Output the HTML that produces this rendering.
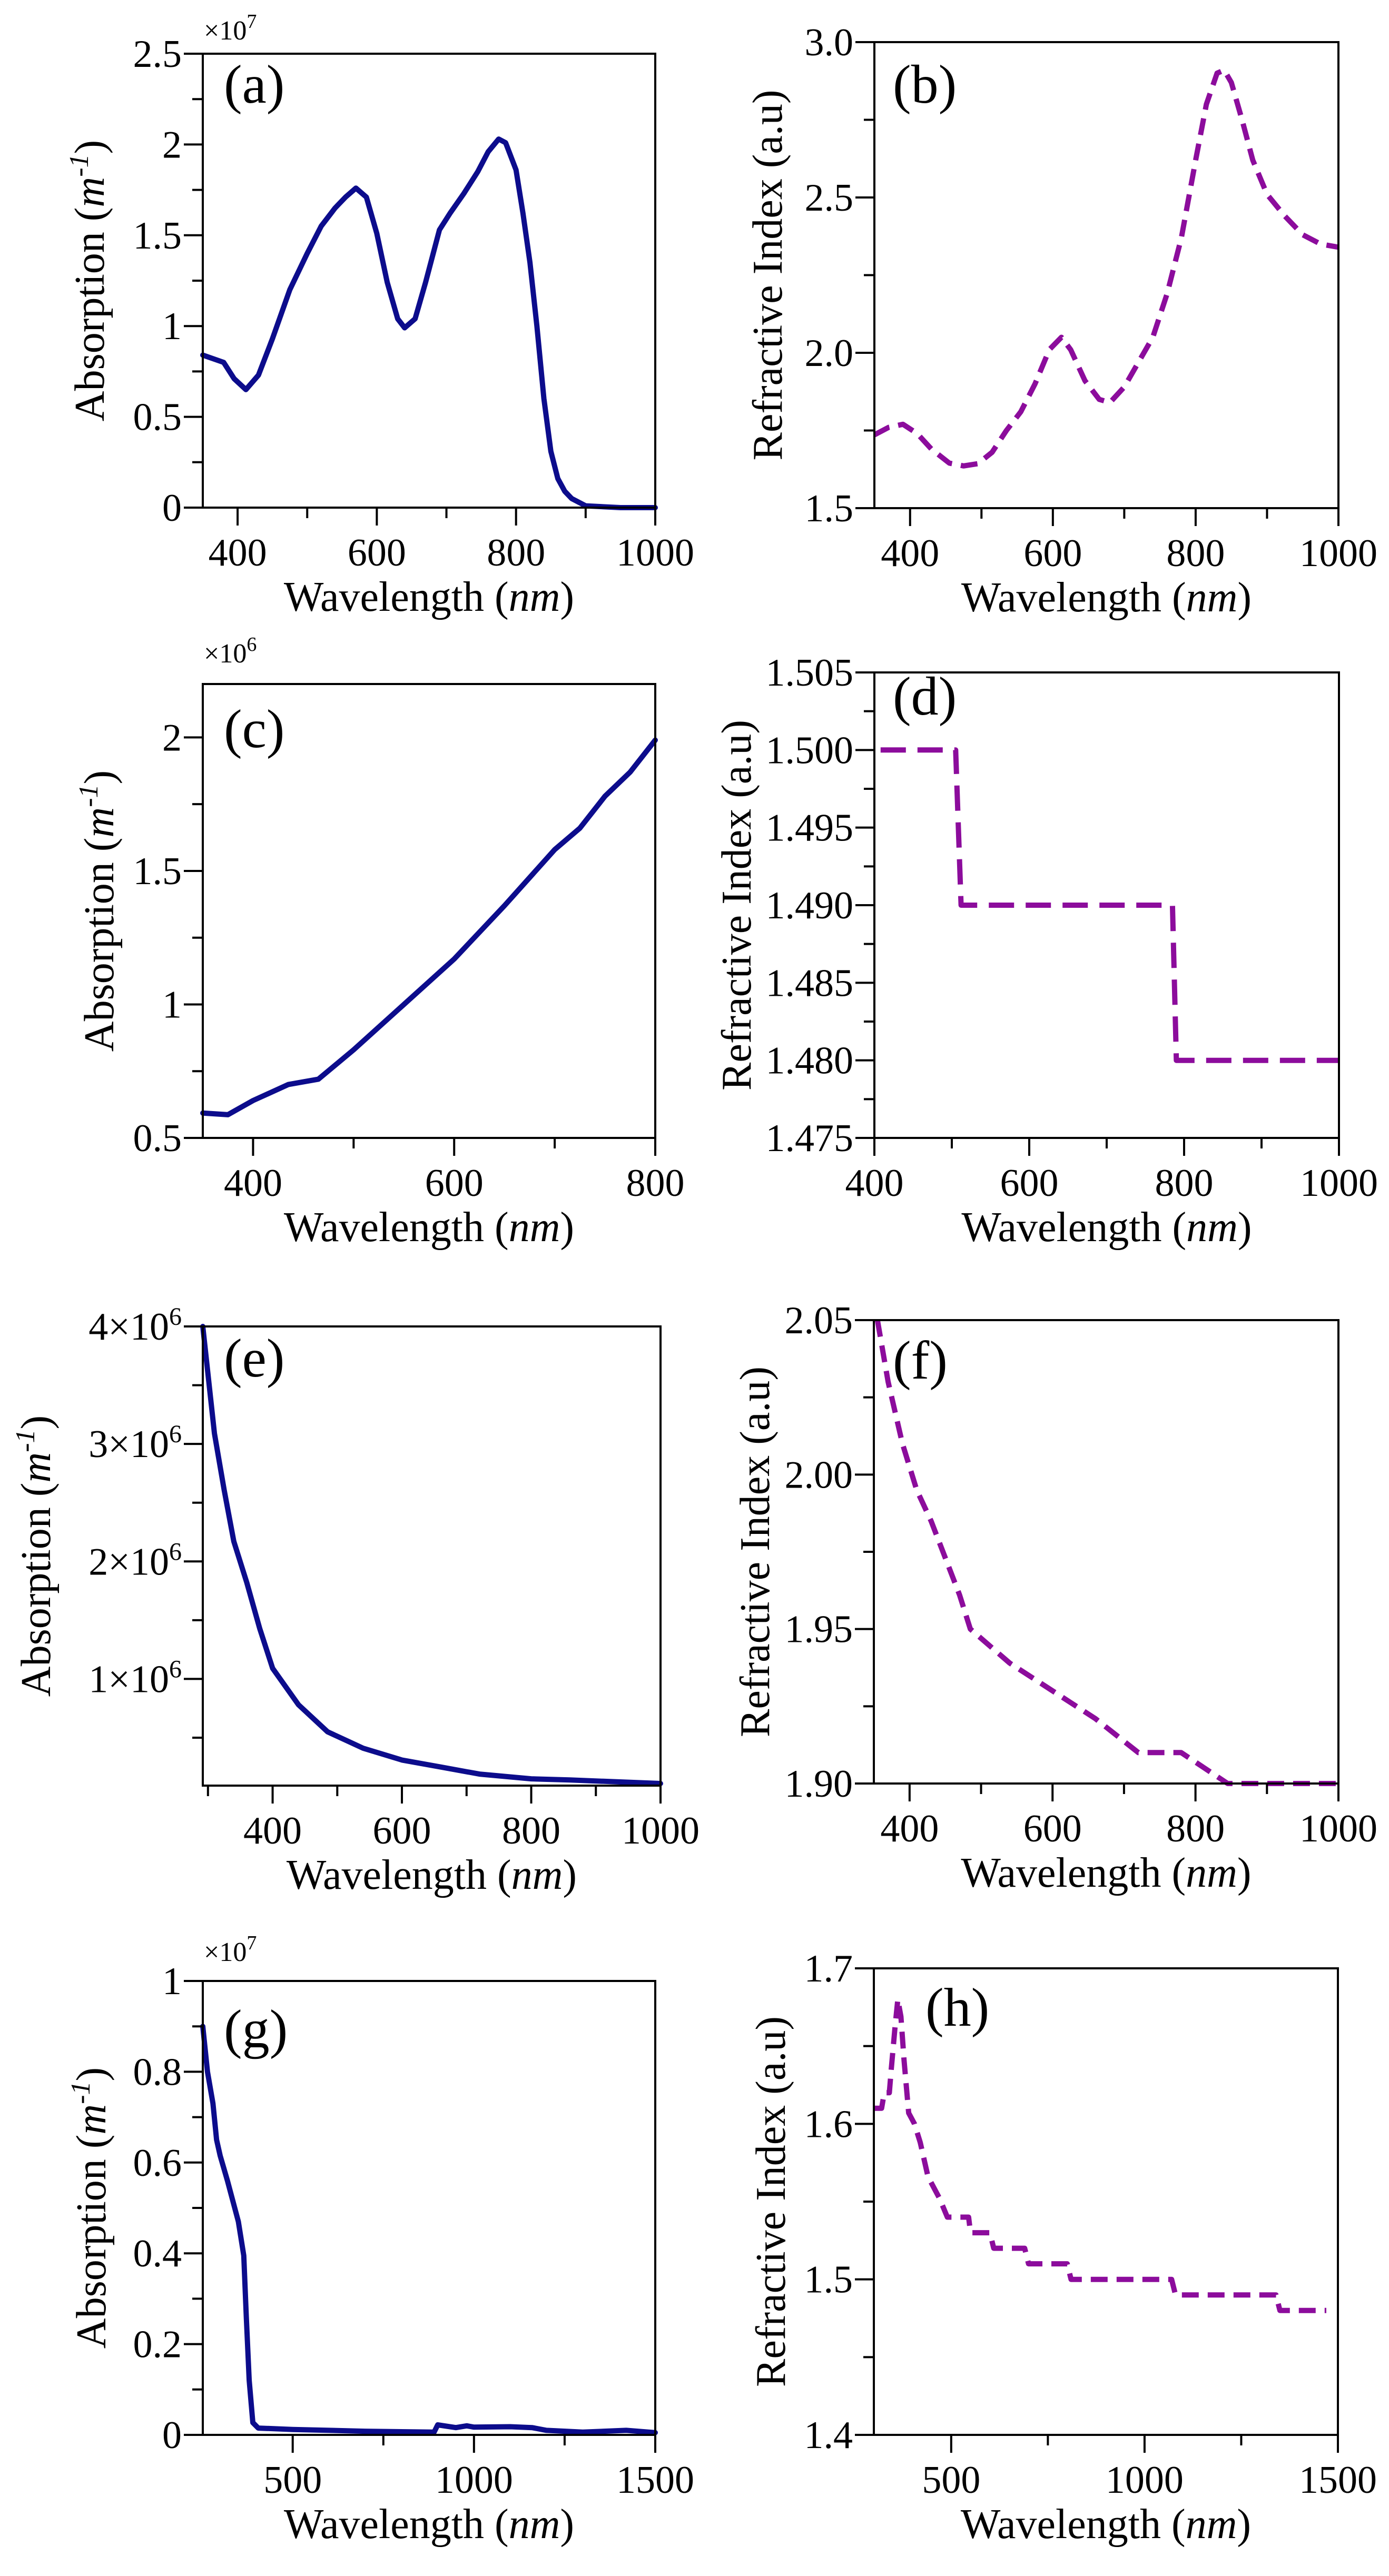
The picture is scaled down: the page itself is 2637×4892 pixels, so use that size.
<!DOCTYPE html>
<html><head><meta charset="utf-8"><style>
html,body{margin:0;padding:0;background:#fff;}
svg{display:block;}
text{font-family:"Liberation Serif","DejaVu Serif",serif;}
</style></head><body>
<svg id="fig" width="2637" height="4892" viewBox="0 0 2637 4892" xmlns="http://www.w3.org/2000/svg" font-family="Liberation Serif, DejaVu Serif, serif">
<rect x="0" y="0" width="2637" height="4892" fill="#fff"/>
</svg>
<script>
// ---- data (a) absorption x1e7
const aX=[350,380,395,412,430,450,475,500,520,540,555,570,585,600,615,630,640,655,670,690,705,725,745,760,775,785,800,810,820,830,840,850,860,870,880,900,950,1000];
const aY=[0.84,0.80,0.71,0.65,0.73,0.93,1.2,1.40,1.55,1.65,1.71,1.76,1.71,1.51,1.24,1.04,0.99,1.04,1.24,1.53,1.62,1.73,1.85,1.96,2.03,2.01,1.86,1.62,1.35,1.0,0.6,0.31,0.16,0.09,0.05,0.01,0.0,0.0];
// (b) refractive index
const bX=[350,370,390,410,430,455,475,495,515,535,555,575,595,612,625,645,665,680,700,720,740,760,780,800,815,830,840,850,865,880,900,925,950,975,1000];
const bY=[1.736,1.76,1.77,1.74,1.69,1.645,1.636,1.643,1.68,1.75,1.81,1.90,2.01,2.05,2.01,1.91,1.85,1.84,1.89,1.97,2.05,2.19,2.37,2.62,2.80,2.90,2.91,2.87,2.75,2.62,2.51,2.44,2.38,2.35,2.34];
// (c) absorption x1e6
const cX=[350,375,400,435,465,500,550,600,650,700,725,750,775,800];
const cY=[0.593,0.587,0.64,0.70,0.72,0.83,1.0,1.17,1.37,1.58,1.66,1.78,1.87,1.99];
// (d) refractive index
const dX=[408,505,512,785,790,1000];
const dY=[1.500,1.500,1.490,1.490,1.480,1.480];
// (e) absorption x1e6
const eX=[292,310,325,340,360,380,400,440,485,540,600,660,720,800,860,1000];
const eY=[4.0,3.09,2.61,2.17,1.82,1.43,1.09,0.78,0.55,0.41,0.31,0.25,0.19,0.15,0.14,0.11];
// (f) refractive index
const fX=[355,370,390,410,430,450,470,485,540,600,660,720,780,845,1000];
const fY=[2.05,2.03,2.01,1.995,1.985,1.973,1.961,1.95,1.939,1.93,1.921,1.91,1.91,1.90,1.90];
// (g) absorption x1e7
const gX=[252,265,280,290,300,320,340,350,365,372,380,390,405,500,700,890,900,950,980,1000,1100,1160,1200,1300,1420,1500];
const gY=[0.90,0.80,0.73,0.65,0.615,0.56,0.50,0.47,0.395,0.26,0.12,0.027,0.015,0.012,0.008,0.006,0.022,0.016,0.02,0.017,0.018,0.016,0.01,0.006,0.01,0.005];
// (h) refractive index
const hX=[300,320,327,340,345,355,362,370,378,390,405,420,440,470,490,545,550,600,610,690,700,800,810,1070,1080,1340,1350,1470];
const hY=[1.61,1.61,1.62,1.62,1.635,1.663,1.68,1.669,1.641,1.607,1.60,1.588,1.566,1.552,1.54,1.54,1.53,1.53,1.52,1.52,1.51,1.51,1.50,1.50,1.49,1.49,1.48,1.48];
// tick labels
const ticksXa=[400,600,800,1000], minorXa=[500,700,900];
const ticksXc=[400,600,800], minorXc=[500,700];
const ticksXd=[400,600,800,1000], minorXd=[500,700,900];
const ticksXe=[400,600,800,1000], minorXe=[300,500,700,900];
const ticksXg=[500,1000,1500], minorXg=[750,1250];
const ticksYa=[0,0.5,1,1.5,2,2.5], labelsYa=["0","0.5","1","1.5","2","2.5"];
const ticksYb=[1.5,2.0,2.5,3.0], labelsYb=["1.5","2.0","2.5","3.0"];
const ticksYc=[0.5,1,1.5,2], labelsYc=["0.5","1","1.5","2"];
const ticksYd=[1.475,1.480,1.485,1.490,1.495,1.500,1.505], labelsYd=["1.475","1.480","1.485","1.490","1.495","1.500","1.505"];
const ticksYe=[1,2,3,4], labelsYe=["1","2","3","4"];
const ticksYf=[1.90,1.95,2.00,2.05], labelsYf=["1.90","1.95","2.00","2.05"];
const ticksYg=[0,0.2,0.4,0.6,0.8,1], labelsYg=["0","0.2","0.4","0.6","0.8","1"];
const ticksYh=[1.4,1.5,1.6,1.7], labelsYh=["1.4","1.5","1.6","1.7"];

const NS="http://www.w3.org/2000/svg";
const FONT='"Liberation Serif","DejaVu Serif",serif';
const svg=document.getElementById('fig');
function mk(tag,attrs,parent){const e=document.createElementNS(NS,tag);for(const k in attrs)e.setAttribute(k,attrs[k]);if(tag==='text')e.style.fontFamily=FONT;(parent||svg).appendChild(e);return e;}

function panel(c){
  const g=mk('g',{});
  
  
  const sx=v=>c.L+(v-c.xmin)/(c.xmax-c.xmin)*(c.R-c.L);
  const sy=v=>c.B-(v-c.ymin)/(c.ymax-c.ymin)*(c.B-c.T);
  let d='';
  c.xs.forEach((x,i)=>{d+=(i?'L':'M')+sx(x).toFixed(1)+','+sy(c.ys[i]).toFixed(1);});
  const p=mk('path',{d:d,fill:'none',stroke:c.color,'stroke-width':10,'stroke-linejoin':'round','stroke-linecap':c.dash?'butt':'round'},g);
  if(c.dash)p.setAttribute('stroke-dasharray',c.dash);
  
  
  const fr=mk('rect',{x:c.L,y:c.T,width:c.R-c.L,height:c.B-c.T,fill:'none',stroke:'#000','stroke-width':4},g);
  
  
  c.xMajor.forEach(v=>{
    const x=sx(v);
    mk('line',{x1:x,y1:c.B,x2:x,y2:c.B+34,stroke:'#000','stroke-width':4},g);
    const t=mk('text',{x:x,y:c.B+110,'font-size':74,'text-anchor':'middle'},g);
    t.textContent=String(v);
    
    
  });
  c.xMinor.forEach(v=>{const x=sx(v);mk('line',{x1:x,y1:c.B,x2:x,y2:c.B+20,stroke:'#000','stroke-width':4},g);});
  c.yMajor.forEach((v,i)=>{
    const y=sy(v);
    mk('line',{x1:c.L-36,y1:y,x2:c.L,y2:y,stroke:'#000','stroke-width':4},g);
    const t=mk('text',{x:c.L-40,y:y+25,'font-size':74,'text-anchor':'end'},g);
    if(c.sci){
      t.appendChild(document.createTextNode(c.yLabels[i]+'×10'));
      const s=mk('tspan',{dy:-28,'font-size':48},t);s.textContent='6';
    } else t.textContent=c.yLabels[i];
    
    
  });
  for(let k=0;k<c.yMajor.length-1;k++){
    const v=(c.yMajor[k]+c.yMajor[k+1])/2;const y=sy(v);
    mk('line',{x1:c.L-20,y1:y,x2:c.L,y2:y,stroke:'#000','stroke-width':4},g);
  }
  if(c.yExtraMinor)c.yExtraMinor.forEach(v=>{const y=sy(v);mk('line',{x1:c.L-20,y1:y,x2:c.L,y2:y,stroke:'#000','stroke-width':4},g);});
  const xt=mk('text',{x:(c.L+c.R)/2,y:c.B+196,'font-size':80,'text-anchor':'middle'},g);
  xt.appendChild(document.createTextNode('Wavelength ('));
  const it=mk('tspan',{'font-style':'italic'},xt);it.textContent='nm';
  xt.appendChild(document.createTextNode(')'));
  
  
  const yt=mk('text',{transform:'translate('+c.ytx+','+((c.T+c.B)/2)+') rotate(-90)','font-size':80,'text-anchor':'middle'},g);
  if(c.abs){
    yt.appendChild(document.createTextNode('Absorption ('));
    const m=mk('tspan',{'font-style':'italic'},yt);m.textContent='m';
    const sup=mk('tspan',{dy:-30,'font-size':52,'font-style':'italic'},yt);sup.textContent='-1';
    const cl=mk('tspan',{dy:30},yt);cl.textContent=')';
  } else yt.textContent='Refractive Index (a.u)';
  
  
  const lt=mk('text',{x:c.lx,y:c.ly,'font-size':104},g);
  lt.textContent='('+c.id+')';
  
  
  if(c.mult){
    const mt=mk('text',{x:c.L+2,y:c.my,'font-size':52},g);
    mt.appendChild(document.createTextNode('×10'));
    const s=mk('tspan',{dy:-22,'font-size':38},mt);s.textContent=c.mult;
    
    
  }
}
const BLUE='#0c0c8c', PUR='#8c0c9c', DASH='32,17';
panel({id:'a',L:385,R:1244,T:102,B:964,xmin:350,xmax:1000,ymin:0,ymax:2.5,xs:aX,ys:aY,color:BLUE,xMajor:ticksXa,xMinor:minorXa,yMajor:ticksYa,yLabels:labelsYa,ytx:197,abs:true,lx:425,ly:195,mult:'7',my:75});
panel({id:'b',L:1660,R:2541,T:80,B:965,xmin:350,xmax:1000,ymin:1.5,ymax:3.0,xs:bX,ys:bY,color:PUR,dash:DASH,xMajor:ticksXa,xMinor:minorXa,yMajor:ticksYb,yLabels:labelsYb,ytx:1484,lx:1695,ly:195});
panel({id:'c',L:385,R:1244,T:1299,B:2161,xmin:350,xmax:800,ymin:0.5,ymax:2.2,xs:cX,ys:cY,color:BLUE,xMajor:ticksXc,xMinor:minorXc,yMajor:ticksYc,yLabels:labelsYc,ytx:215,abs:true,lx:425,ly:1419,mult:'6',my:1258});
panel({id:'d',L:1660,R:2542,T:1277,B:2161,xmin:400,xmax:1000,ymin:1.475,ymax:1.505,xs:dX,ys:dY,color:PUR,dash:'48,22',xMajor:ticksXd,xMinor:minorXd,yMajor:ticksYd,yLabels:labelsYd,ytx:1425,lx:1695,ly:1357});
panel({id:'e',L:385,R:1254,T:2519,B:3391,xmin:292,xmax:1000,ymin:0.092,ymax:4,xs:eX,ys:eY,color:BLUE,xMajor:ticksXe,xMinor:minorXe,yMajor:ticksYe,yLabels:labelsYe,sci:true,yExtraMinor:[0.5],ytx:95,abs:true,lx:425,ly:2614});
panel({id:'f',L:1659,R:2541,T:2507,B:3387,xmin:350,xmax:1000,ymin:1.90,ymax:2.05,xs:fX,ys:fY,color:PUR,dash:DASH,xMajor:ticksXa,xMinor:minorXa,yMajor:ticksYf,yLabels:labelsYf,ytx:1460,lx:1695,ly:2618});
panel({id:'g',L:385,R:1244,T:3762,B:4624,xmin:252,xmax:1500,ymin:0,ymax:1,xs:gX,ys:gY,color:BLUE,xMajor:ticksXg,xMinor:minorXg,yMajor:ticksYg,yLabels:labelsYg,ytx:200,abs:true,lx:425,ly:3888,mult:'7',my:3724});
panel({id:'h',L:1659,R:2540,T:3738,B:4624,xmin:300,xmax:1500,ymin:1.4,ymax:1.7,xs:hX,ys:hY,color:PUR,dash:DASH,xMajor:ticksXg,xMinor:minorXg,yMajor:ticksYh,yLabels:labelsYh,ytx:1490,lx:1757,ly:3847});
</script>
</body></html>
